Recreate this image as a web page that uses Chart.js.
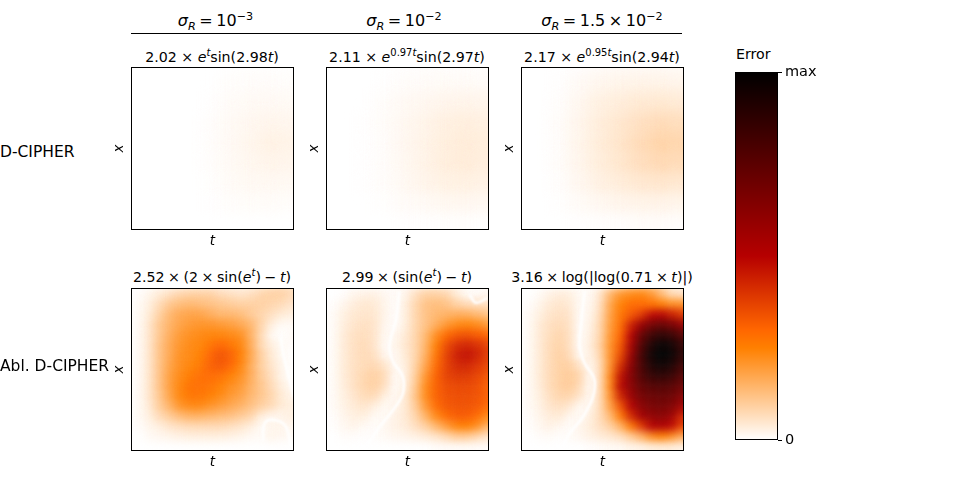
<!DOCTYPE html>
<html>
<head>
<meta charset="utf-8">
<script src="https://cdn.jsdelivr.net/npm/chart.js@4"></script>
<style>
  html, body { margin: 0; background: #fff; width: 959px; height: 498px; overflow: hidden; }
  body { font-family: "DejaVu Sans", sans-serif; color: #000; position: relative; }
  canvas { position: absolute; }
  .txt { position: absolute; white-space: nowrap; line-height: 1; }
  .mid { transform: translateX(-50%); }
  .tight { word-spacing: -1px; }
  .tighter { word-spacing: -1.5px; }
  sup, sub { font-size: 70%; line-height: 0; }
  #rule { position: absolute; left: 131px; top: 33px; width: 551px; height: 1px; background: #000; }
</style>
</head>
<body>
<div id="rule"></div>
<script>
// column heads, row names and panel titles
const columnHeads = [
  "<i>σ<sub>R</sub></i> = 10<sup>−3</sup>",
  "<i>σ<sub>R</sub></i> = 10<sup>−2</sup>",
  "<i>σ<sub>R</sub></i> = 1.5 × 10<sup>−2</sup>"
];
const rowNames = ["D-CIPHER", "Abl. D-CIPHER"];
const panelTitles = [
  "2.02 × <i>e<sup>t</sup></i>sin(2.98<i>t</i>)",
  "2.11 × <i>e</i><sup>0.97<i>t</i></sup>sin(2.97<i>t</i>)",
  "2.17 × <i>e</i><sup>0.95<i>t</i></sup>sin(2.94<i>t</i>)",
  "2.52 × (2 × sin(<i>e<sup>t</sup></i>) − <i>t</i>)",
  "2.99 × (sin(<i>e<sup>t</sup></i>) − <i>t</i>)",
  "3.16 × log(|log(0.71 × <i>t</i>)|)"
];

// error, percent of max, rows top to bottom
const dcipher1 = [
  [0,0,0,0,0,0,0,0,0],
  [0,0,0,0,0,.4,.5,.5,.4],
  [0,0,0,0,.1,.7,1.0,1.1,1.0],
  [0,0,0,0,.3,1.0,1.5,1.9,1.7],
  [0,0,0,0,.3,1.1,1.8,2.6,2.4],
  [0,0,0,0,.3,1.0,1.6,2.1,1.9],
  [0,0,0,0,.2,.8,1.2,1.3,1.2],
  [0,0,0,0,.1,.4,.6,.6,.5],
  [0,0,0,0,0,0,0,0,0]
];
const dcipher2 = [
  [0,0,0,0,.1,.1,.1,.1,.1],
  [0,0,0,.1,.5,.7,.8,.8,.7],
  [0,0,0,.5,1.1,1.5,1.9,2.1,1.9],
  [0,0,.1,.6,1.4,2.2,2.9,3.2,2.9],
  [0,0,.1,.5,1.5,2.4,3.2,3.7,3.4],
  [0,0,.1,.5,1.4,2.4,3.3,3.7,3.3],
  [0,0,.1,.5,1.2,2.1,2.6,2.8,2.5],
  [0,0,0,.2,.7,1.0,1.4,1.5,1.3],
  [0,0,0,0,.1,.1,.2,.2,.1]
];
const dcipher3 = [
  [0,0,0,.1,.3,.5,.5,.5,.4],
  [0,0,.1,.9,1.6,2.0,2.2,2.2,1.9],
  [0,0,.3,1.5,2.8,3.5,4.2,4.4,4.0],
  [0,0,.5,1.9,3.4,4.7,6.0,7.0,6.5],
  [0,0,.5,2.0,3.6,5.1,7.0,8.5,8.0],
  [0,0,.5,1.9,3.4,4.8,6.4,7.4,7.0],
  [0,0,.3,1.5,2.7,3.6,4.5,4.9,4.5],
  [0,0,.1,.8,1.4,1.9,2.2,2.3,2.0],
  [0,0,0,.1,.2,.3,.5,.5,.3]
];
const abl1 = [
  [0,0,0,.5,1,1.5,2,2,2,1.5,1.5,1.5,2,3,4,5,4],
  [0,.5,2,4,6,8,9,9,9,7,6,5,6,8,9,9,7],
  [0,1,3,7,11,13,14,13,12,11,10,9,9,9,8,7,5],
  [0,1,4,9,14,17,18,18,16,14,14,13,10,8,6,4,3],
  [0,1,5,11,15,18,20,21,21,20,19,17,14,8,3,1,1],
  [0,1,5,11,16,20,22,23,24,24,23,22,15,7,1,0,1],
  [0,1,5,12,17,21,23,24,27,30,27,24,16,7,3,1,.5],
  [0,1,5,12,17,22,23,25,30,34,31,25,17,9,4,1,0],
  [0,1,5,12,18,22,24,26,31,33,30,24,16,9,5,2,0],
  [0,1,5,12,19,23,26,28,29,28,25,22,16,10,6,2,0],
  [0,1,5,12,19,24,28,28,27,25,22,20,15,11,7,3,1],
  [0,1,5,11,18,24,27,27,25,23,20,18,14,11,8,4,2],
  [0,1,4,10,15,21,23,23,21,19,17,15,12,9,7,4,3],
  [0,1,3,7,10,13,15,15,14,13,12,10,8,3,1.5,2,3],
  [0,.5,2,3,5,6,7,7,7,7,6,5,3,1,2,2,1.5],
  [0,0,1,1.5,2,2.5,3,3,3,3,2.5,2,1,1,2,1.5,1],
  [0,0,0,0,0,0,0,0,0,0,0,0,0,0,0,0,0]
];
const abl2 = [
  [0,0,0,0,0,0,0,.5,1,1.5,2,2,1.5,1,.5,1,1],
  [0,0,.5,2,2.5,2.5,1.5,.5,2,6,9,9,8,4,.8,.5,1.5],
  [0,.5,2,3.5,4.5,4,2,.3,3,8,12,13,12,9,7,6,6],
  [0,1,3,4.5,5,4.5,2,.3,3,8,12,14,15,16,16,14,12],
  [0,1,3.5,5,6,5,1.5,.5,3,8,12,16,20,23,24,23,20],
  [0,1,4,6,6.5,5,1,1.5,4,8,14,22,29,33,34,32,30],
  [0,1,4,6,7,5,.5,2,4.5,8,15,25,35,41,43,41,37],
  [0,1,4,6,7,6,1.5,1,4,8,16,27,37,44,47,44,38],
  [0,1,4,6,7,7.5,5,1,3,9,18,29,37,42,43,40,36],
  [0,1,4,6,8,9,7,.5,2.5,10,21,31,37,39,39,37,33],
  [0,1,3.5,6,8,9,6,.5,3,11,23,31,35,36,36,35,31],
  [0,1,3,5,7,7,3,1,4,12,23,31,34,35,35,34,31],
  [0,1,2.5,4,5,3,1,2,4,10,20,29,33,34,34,33,29],
  [0,.5,2,3,3,1,1,2.5,4,8,15,23,29,32,32,29,23],
  [0,.3,1.5,2,1,.5,1.5,2.5,3.5,6,9,14,19,24,25,22,15],
  [0,0,.5,.5,.3,.5,1,1.5,2,2.5,3.5,5,7,10,10,8,5],
  [0,0,0,0,0,0,0,0,0,0,0,.5,.5,.5,.5,.5,.5]
];
const abl3 = [
  [0,0,0,0,0,0,0,.5,1,3,5,7,8,7,5,2,2],
  [0,0,1,2.5,3.5,3,1,1,5,15,21,23,24,21,14,7,6],
  [0,.5,2,4,5,4,.8,1.5,6,18,25,29,29,28,25,22,22],
  [0,1,3,5,6,5,.5,2,7,19,27,33,38,48,50,45,40],
  [0,1,4,6,7,5.5,.3,2.5,8,20,28,44,58,68,72,67,60],
  [0,1,4,6.5,8,6,.3,3,8,21,30,50,72,83,88,84,76],
  [0,1,4,7,8.5,6,.3,3.5,9,22,33,54,78,92,98,95,86],
  [0,1,4,7,9,7,.8,2.5,8,22,36,58,82,96,100,97,88],
  [0,1,4,7,9,9,5,1,7,22,42,62,80,92,96,92,82],
  [0,1,4,7,9,10,8,.5,7,24,48,64,78,86,88,85,76],
  [0,1,3.5,7,9,10,7,.5,7,24,50,62,73,77,78,76,70],
  [0,1,3,6,8,8,5,1,7,22,44,58,68,71,72,70,63],
  [0,1,2.5,5,6,4.5,1,2,7,19,34,51,62,67,68,65,55],
  [0,.5,2,3.5,4,1.5,1,3,7,14,26,42,55,60,62,57,42],
  [0,.3,1.5,2.5,1.5,.5,2,3.5,6,9,15,26,38,50,52,48,36],
  [0,0,.5,.8,.3,.8,1.5,2.5,3.5,4.5,6,10,15,22,25,22,16],
  [0,0,0,0,0,0,0,.3,.5,1,1,2,2,3,3,3,2]
];

// where the error crosses zero (t, x from top), white seams in the lower row
const seam1a = [[.92,.30],[.93,.38],[.97,.55],[1,.67]];
const seam1b = [[.81,.94],[.82,.83],[.88,.81],[.95,.85],[.98,.98]];
const seam2a = [[.45,.02],[.43,.19],[.39,.35],[.41,.45],[.47,.54],[.47,.65],[.41,.75],[.33,.85],[.25,.97]];
const seam2b = [[.88,.04],[.92,.09],[.99,.06]];
const seam3a = [[.39,.02],[.37,.21],[.36,.36],[.39,.46],[.45,.56],[.44,.67],[.38,.79],[.30,.89],[.25,.98]];

// colour bar
const barLevels = [0, 25, 30, 50, 100];
const barTicks = [0, 100];
const barTickLabels = ["0", "max"];

// reversed gist_heat
function heat(v) {
  const x = 1 - v / 100;
  const r = Math.min(x / 0.7, 1);
  const g = Math.max(2 * x - 1, 0);
  const b = Math.max(4 * x - 3, 0);
  return `rgb(${r * 255},${g * 255},${b * 255})`;
}

// soft edged cells, blur is set per dataset
const softCells = {
  id: "softCells",
  beforeDatasetDraw(chart, args) {
    const b = chart.data.datasets[args.index].blur;
    if (b) chart.ctx.filter = `blur(${b}px)`;
  },
  afterDatasetDraw(chart) { chart.ctx.filter = "none"; }
};
const frame = {
  id: "frame",
  afterDraw(chart) {
    const a = chart.chartArea, c = chart.ctx;
    c.save();
    c.strokeStyle = "#000";
    c.lineWidth = 1;
    c.strokeRect(a.left + .5, a.top + .5, a.width - 1, a.height - 1);
    c.restore();
  }
};

function addText(html, x, y, size, centred, cls) {
  const d = document.createElement("div");
  d.className = "txt" + (centred ? " mid" : "") + (cls ? " " + cls : "");
  d.innerHTML = html;
  d.style.left = x + "px";
  d.style.top = y + "px";
  d.style.fontSize = size + "px";
  document.body.appendChild(d);
}

function addCanvas(x, y, w, h) {
  const c = document.createElement("canvas");
  c.width = w; c.height = h;
  c.style.left = x + "px"; c.style.top = y + "px";
  c.style.width = w + "px"; c.style.height = h + "px";
  document.body.appendChild(c);
  return c;
}

function cells(rows) {
  const pts = [];
  rows.forEach((row, j) => row.forEach((v, i) => {
    pts.push({ x: i / (row.length - 1), y: j / (rows.length - 1), v: v });
  }));
  return pts;
}

function seamLine(line) {
  return {
    type: "line",
    order: 0,
    data: line.map(p => ({ x: p[0], y: p[1] })),
    showLine: true,
    borderColor: "#fff",
    borderWidth: 2.5,
    tension: 0.4,
    pointRadius: 0,
    blur: 0.8
  };
}

const axisFont = { family: "DejaVu Sans", size: 13.5, style: "italic" };

function panel(left, top, rows, seams, radius, blur) {
  const sets = [{
    order: 1,
    data: cells(rows),
    pointStyle: "rect",
    pointRadius: radius,
    pointBorderWidth: 0,
    pointBackgroundColor: ctx => heat(ctx.raw ? ctx.raw.v : 0),
    blur: blur
  }].concat(seams.map(seamLine));
  new Chart(addCanvas(left - 26, top, 26 + 163, 183), {
    type: "scatter",
    data: { datasets: sets },
    plugins: [softCells, frame],
    options: {
      responsive: false,
      animation: false,
      layout: { padding: 0, autoPadding: false },
      plugins: { legend: { display: false }, tooltip: { enabled: false } },
      scales: {
        x: {
          min: 0, max: 1,
          grid: { display: false }, border: { display: false },
          ticks: { display: false },
          title: { display: true, text: "t", color: "#000", font: axisFont, padding: { top: 0, bottom: 0 } },
          afterFit: s => { s.height = 20; }
        },
        y: {
          min: 0, max: 1, reverse: true,
          grid: { display: false }, border: { display: false },
          ticks: { display: false },
          title: { display: true, text: "x", color: "#000", font: axisFont, padding: { top: 6, bottom: 0 } },
          afterFit: s => { s.width = 26; }
        }
      }
    }
  });
}

const colX = [131, 326, 521];
const rowY = [67, 288];
const coarse = [21, 7];   // radius, blur for the 8 cell grids
const fine = [11.3, 4];   // radius, blur for the 16 cell grids

panel(colX[0], rowY[0], dcipher1, [], coarse[0], coarse[1]);
panel(colX[1], rowY[0], dcipher2, [], coarse[0], coarse[1]);
panel(colX[2], rowY[0], dcipher3, [], coarse[0], coarse[1]);
panel(colX[0], rowY[1], abl1, [seam1a, seam1b], fine[0], fine[1]);
panel(colX[1], rowY[1], abl2, [seam2a, seam2b], fine[0], fine[1]);
panel(colX[2], rowY[1], abl3, [seam3a], fine[0], fine[1]);

const headX = [215.5, 404, 602];
columnHeads.forEach((h, i) => addText(h, headX[i], 13, 16, true, "tighter"));
panelTitles.forEach((t, i) => {
  if (i < 3) addText(t, colX[i] + 81, rowY[0] - 17, 14.2, true);
  else addText(t, colX[i - 3] + 81, rowY[1] - 18, 14.2, true, "tight");
});
addText(rowNames[0], 0, 145, 15.5, false);
addText(rowNames[1], 0, 359, 15.5, false);
addText("Error", 736, 47, 14.2, false);

// colour bar: one bar from 0 to max filled with the colormap
new Chart(addCanvas(735, 58, 90, 396), {
  type: "bar",
  data: {
    labels: ["Error"],
    datasets: [{
      data: [[barTicks[0], barTicks[1]]],
      categoryPercentage: 1,
      barPercentage: 1,
      backgroundColor: ctx => {
        const a = ctx.chart.chartArea;
        if (!a) return "#000";
        const g = ctx.chart.ctx.createLinearGradient(0, a.bottom, 0, a.top);
        barLevels.forEach(l => g.addColorStop(l / 100, heat(l)));
        return g;
      }
    }]
  },
  plugins: [frame],
  options: {
    responsive: false,
    animation: false,
    layout: { padding: { top: 14, bottom: 14 }, autoPadding: false },
    plugins: { legend: { display: false }, tooltip: { enabled: false } },
    scales: {
      x: { display: false },
      y: {
        position: "right",
        min: barTicks[0], max: barTicks[1],
        afterBuildTicks: s => { s.ticks = barTicks.map(v => ({ value: v })); },
        afterFit: s => { s.width = 47; },
        border: { display: false },
        grid: { drawOnChartArea: false, tickLength: 4, color: "#000" },
        ticks: {
          color: "#000", padding: 3, maxRotation: 0,
          font: { family: "DejaVu Sans", size: 14.5 },
          callback: v => barTickLabels[barTicks.indexOf(v)]
        }
      }
    }
  }
});
</script>
</body>
</html>
